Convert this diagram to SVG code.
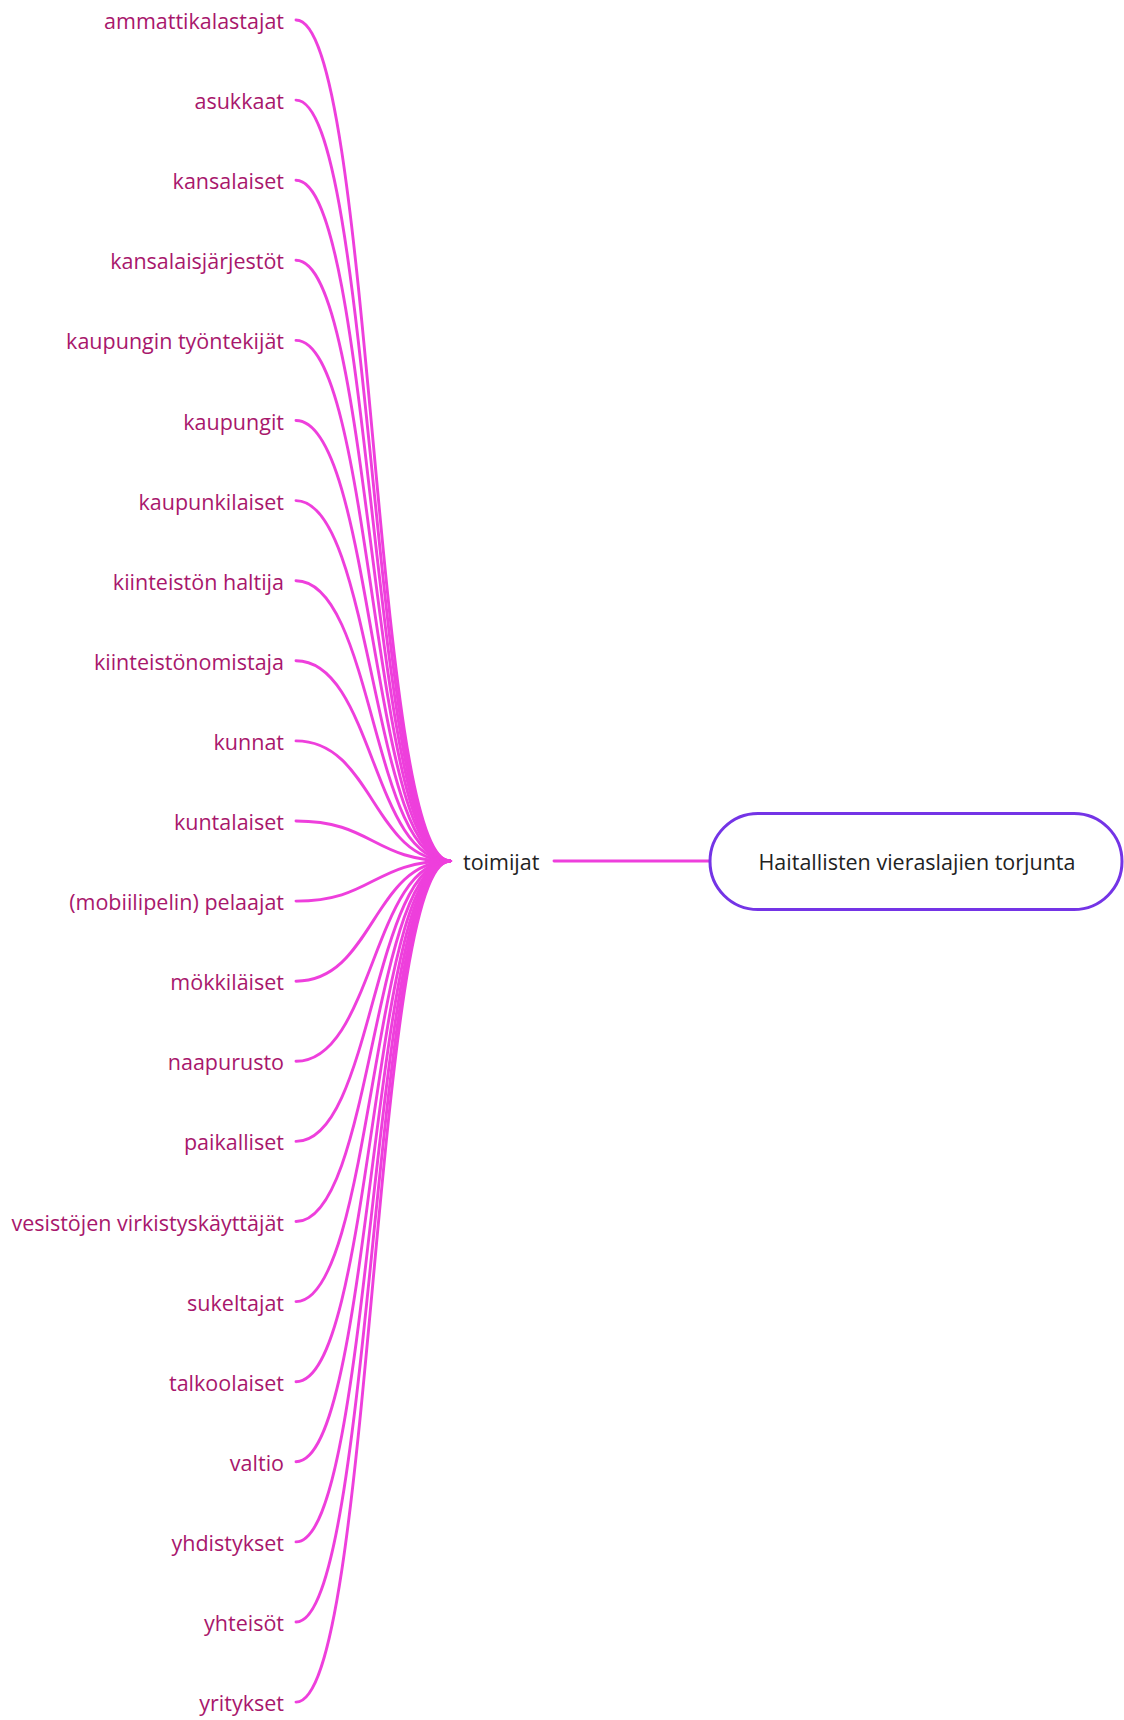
<svg xmlns="http://www.w3.org/2000/svg" width="1124" height="1720" viewBox="0 0 1124 1720">
  <style>
    .leaf { font-family: "Open Sans", "Noto Sans", sans-serif; font-size: 21.5px; fill: #a8176c; text-anchor: end; }
    .dark { font-family: "Open Sans", "Noto Sans", sans-serif; font-size: 21.5px; fill: #222222; }
    .link { fill: none; stroke: #ee3fdc; stroke-width: 2.9; stroke-linecap: round; }
    .root-box { fill: #ffffff; stroke: #7434e6; stroke-width: 3; }
  </style>
  <rect width="1124" height="1720" fill="#ffffff"/>

  <!-- connectors: each leaf curves into the hub point at (450, 861) -->
  <g id="connectors">
    <path class="link" d="M296 20 C373 20 373 861 450 861"/>
    <path class="link" d="M296 100.1 C373 100.1 373 861 450 861"/>
    <path class="link" d="M296 180.2 C373 180.2 373 861 450 861"/>
    <path class="link" d="M296 260.3 C373 260.3 373 861 450 861"/>
    <path class="link" d="M296 340.4 C373 340.4 373 861 450 861"/>
    <path class="link" d="M296 420.5 C373 420.5 373 861 450 861"/>
    <path class="link" d="M296 500.6 C373 500.6 373 861 450 861"/>
    <path class="link" d="M296 580.7 C373 580.7 373 861 450 861"/>
    <path class="link" d="M296 660.8 C373 660.8 373 861 450 861"/>
    <path class="link" d="M296 740.9 C373 740.9 373 861 450 861"/>
    <path class="link" d="M296 821 C373 821 373 861 450 861"/>
    <path class="link" d="M296 901.1 C373 901.1 373 861 450 861"/>
    <path class="link" d="M296 981.2 C373 981.2 373 861 450 861"/>
    <path class="link" d="M296 1061.3 C373 1061.3 373 861 450 861"/>
    <path class="link" d="M296 1141.4 C373 1141.4 373 861 450 861"/>
    <path class="link" d="M296 1221.5 C373 1221.5 373 861 450 861"/>
    <path class="link" d="M296 1301.6 C373 1301.6 373 861 450 861"/>
    <path class="link" d="M296 1381.7 C373 1381.7 373 861 450 861"/>
    <path class="link" d="M296 1461.8 C373 1461.8 373 861 450 861"/>
    <path class="link" d="M296 1541.9 C373 1541.9 373 861 450 861"/>
    <path class="link" d="M296 1622 C373 1622 373 861 450 861"/>
    <path class="link" d="M296 1702.1 C373 1702.1 373 861 450 861"/>
    <path d="M440 856 L453 861 L440 866 Z" fill="#ee3fdc"/>
    <line class="link" x1="554" y1="861" x2="710" y2="861" stroke="#e24fd8"/>
  </g>

  <!-- leaf labels -->
  <g id="n-ammattikalastajat"><text class="leaf" x="284" y="29">ammattikalastajat</text></g>
  <g id="n-asukkaat"><text class="leaf" x="284" y="109.1">asukkaat</text></g>
  <g id="n-kansalaiset"><text class="leaf" x="284" y="189.2">kansalaiset</text></g>
  <g id="n-kansalaisjarjestot"><text class="leaf" x="284" y="269.3">kansalaisjärjestöt</text></g>
  <g id="n-kaupungin-tyontekijat"><text class="leaf" x="284" y="349.4">kaupungin työntekijät</text></g>
  <g id="n-kaupungit"><text class="leaf" x="284" y="429.5">kaupungit</text></g>
  <g id="n-kaupunkilaiset"><text class="leaf" x="284" y="509.6">kaupunkilaiset</text></g>
  <g id="n-kiinteiston-haltija"><text class="leaf" x="284" y="589.7">kiinteistön haltija</text></g>
  <g id="n-kiinteistonomistaja"><text class="leaf" x="284" y="669.8">kiinteistönomistaja</text></g>
  <g id="n-kunnat"><text class="leaf" x="284" y="749.9">kunnat</text></g>
  <g id="n-kuntalaiset"><text class="leaf" x="284" y="830">kuntalaiset</text></g>
  <g id="n-pelaajat"><text class="leaf" x="284" y="910.1">(mobiilipelin) pelaajat</text></g>
  <g id="n-mokkilaiset"><text class="leaf" x="284" y="990.2">mökkiläiset</text></g>
  <g id="n-naapurusto"><text class="leaf" x="284" y="1070.3">naapurusto</text></g>
  <g id="n-paikalliset"><text class="leaf" x="284" y="1150.4">paikalliset</text></g>
  <g id="n-virkistyskayttajat"><text class="leaf" x="284" y="1230.5">vesistöjen virkistyskäyttäjät</text></g>
  <g id="n-sukeltajat"><text class="leaf" x="284" y="1310.6">sukeltajat</text></g>
  <g id="n-talkoolaiset"><text class="leaf" x="284" y="1390.7">talkoolaiset</text></g>
  <g id="n-valtio"><text class="leaf" x="284" y="1470.8">valtio</text></g>
  <g id="n-yhdistykset"><text class="leaf" x="284" y="1550.9">yhdistykset</text></g>
  <g id="n-yhteisot"><text class="leaf" x="284" y="1631">yhteisöt</text></g>
  <g id="n-yritykset"><text class="leaf" x="284" y="1711.1">yritykset</text></g>

  <!-- hub -->
  <g id="n-toimijat"><text class="dark" x="463" y="870">toimijat</text></g>

  <!-- root -->
  <g id="n-root">
    <rect class="root-box" x="710" y="813.5" width="412" height="96" rx="48" ry="48"/>
    <text class="dark" x="917" y="870" text-anchor="middle">Haitallisten vieraslajien torjunta</text>
  </g>
</svg>
